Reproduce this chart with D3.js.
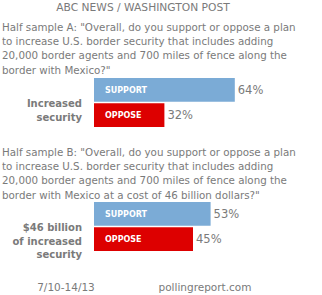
<!DOCTYPE html>
<html>
<head>
<meta charset="utf-8">
<script src="https://cdn.jsdelivr.net/npm/d3@7"></script>
<style>
  body { margin: 0; background: #fff; }
  svg text { font-family: "DejaVu Sans", Verdana, sans-serif; }
</style>
</head>
<body>
<div id="chart"></div>
<script>
// data
var title = "ABC NEWS / WASHINGTON POST";
var questionA = [
    "Half sample A: \"Overall, do you support or oppose a plan",
    "to increase U.S. border security that includes adding",
    "20,000 border agents and 700 miles of fence along the",
    "border with Mexico?\""
];
var questionB = [
    "Half sample B: \"Overall, do you support or oppose a plan",
    "to increase U.S. border security that includes adding",
    "20,000 border agents and 700 miles of fence along the",
    "border with Mexico at a cost of 46 billion dollars?\""
];
var labelA = ["Increased", "security"];
var labelB = ["$46 billion", "of increased", "security"];
var answers = ["SUPPORT", "OPPOSE"];
var valuesA = [64, 32];
var valuesB = [53, 45];
var footerDate = "7/10-14/13";
var footerSource = "pollingreport.com";

var colors = { SUPPORT: "#7babd6", OPPOSE: "#dd0000" };
var textColor = "#7a7a7a";

var width = 322, height = 295;

var svg = d3.select("#chart")
    .append("svg")
    .attr("width", width)
    .attr("height", height);

var x = d3.scaleLinear().domain([0, 100]).range([94, 314]);

svg.append("text")
    .attr("x", 143)
    .attr("y", 11)
    .attr("text-anchor", "middle")
    .attr("font-size", 10.7)
    .attr("fill", textColor)
    .text(title);

function drawQuestion(lines, top) {
    svg.append("g")
        .selectAll("text")
        .data(lines)
        .enter()
        .append("text")
        .attr("x", 2)
        .attr("y", (d, i) => top + i * 14.2)
        .attr("font-size", 10.3)
        .attr("fill", textColor)
        .text(d => d);
}

function drawBlock(values, label, top, labelTop) {
    let y = d3.scaleBand().domain(answers).range([top, top + 49]).paddingInner(0.06);
    let g = svg.append("g");

    g.selectAll("rect")
        .data(values)
        .enter()
        .append("rect")
        .attr("x", x(0))
        .attr("y", (d, i) => y(answers[i]))
        .attr("width", d => x(d) - x(0))
        .attr("height", y.bandwidth())
        .attr("fill", (d, i) => colors[answers[i]]);

    g.selectAll("text.ans")
        .data(values)
        .enter()
        .append("text")
        .attr("class", "ans")
        .attr("x", x(0) + 11)
        .attr("y", (d, i) => y(answers[i]) + y.bandwidth() / 2 + 3)
        .attr("font-size", 8)
        .attr("font-weight", "bold")
        .attr("fill", "#fff")
        .text((d, i) => answers[i]);

    g.selectAll("text.val")
        .data(values)
        .enter()
        .append("text")
        .attr("class", "val")
        .attr("x", d => x(d) + 3)
        .attr("y", (d, i) => y(answers[i]) + y.bandwidth() / 2 + 4)
        .attr("font-size", 11.5)
        .attr("fill", textColor)
        .text(d => d + "%");

    g.selectAll("text.cat")
        .data(label)
        .enter()
        .append("text")
        .attr("class", "cat")
        .attr("x", 82)
        .attr("y", (d, i) => labelTop + i * 13.5)
        .attr("text-anchor", "end")
        .attr("font-size", 10)
        .attr("font-weight", "bold")
        .attr("fill", textColor)
        .text(d => d);
}

drawQuestion(questionA, 31);
drawBlock(valuesA, labelA, 78, 107);
drawQuestion(questionB, 156);
drawBlock(valuesB, labelB, 202, 231);

svg.append("text")
    .attr("x", 66)
    .attr("y", 291)
    .attr("text-anchor", "middle")
    .attr("font-size", 10.5)
    .attr("fill", textColor)
    .text(footerDate);

svg.append("text")
    .attr("x", 205)
    .attr("y", 291)
    .attr("text-anchor", "middle")
    .attr("font-size", 10.5)
    .attr("fill", textColor)
    .text(footerSource);
</script>
</body>
</html>
